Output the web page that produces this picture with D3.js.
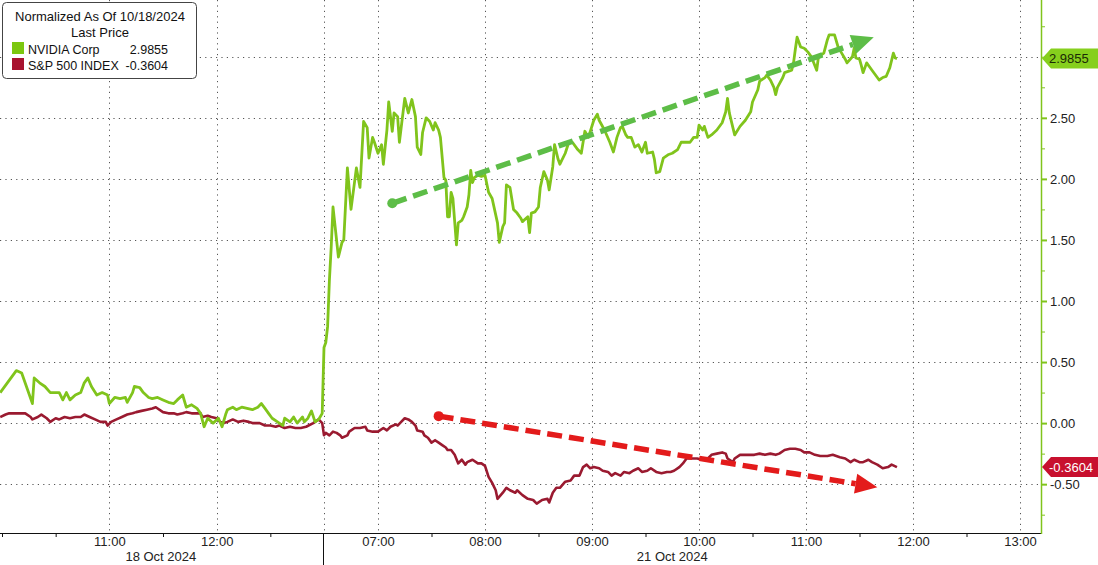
<!DOCTYPE html>
<html><head><meta charset="utf-8">
<script src="https://cdn.jsdelivr.net/npm/d3@7"></script>
<style>
html,body{margin:0;padding:0;background:#fff;}
svg{display:block;font-family:"Liberation Sans",Arial,sans-serif;}
</style></head>
<body>
<svg id="chart" width="1098" height="565"></svg>
<script>
// ---------------- DATA ----------------
const nvdaTimes = [
"10/18 09:59","10/18 10:08","10/18 10:11","10/18 10:17","10/18 10:18","10/18 10:21","10/18 10:24","10/18 10:27","10/18 10:30","10/18 10:32",
"10/18 10:34","10/18 10:36","10/18 10:38","10/18 10:41","10/18 10:44","10/18 10:46","10/18 10:48","10/18 10:50","10/18 10:53","10/18 10:56",
"10/18 10:59","10/18 11:00","10/18 11:03","10/18 11:06","10/18 11:09","10/18 11:10","10/18 11:13","10/18 11:14","10/18 11:17","10/18 11:19",
"10/18 11:22","10/18 11:24","10/18 11:27","10/18 11:30","10/18 11:33","10/18 11:36","10/18 11:38","10/18 11:41","10/18 11:43","10/18 11:46",
"10/18 11:49","10/18 11:51","10/18 11:53","10/18 11:55","10/18 11:58","10/18 12:01","10/18 12:03","10/18 12:05","10/18 12:06","10/18 12:09",
"10/18 12:11","10/18 12:14","10/18 12:17","10/18 12:20","10/18 12:23","10/18 12:25","10/18 12:27","10/18 12:29","10/18 12:31","10/18 12:34",
"10/18 12:37","10/18 12:38","10/18 12:41","10/18 12:43","10/18 12:45","10/18 12:48","10/18 12:49","10/18 12:51","10/18 12:53","10/18 12:55",
"10/18 12:57","10/18 12:59",
"10/21 06:30","10/21 06:31","10/21 06:32","10/21 06:33","10/21 06:34","10/21 06:35","10/21 06:38","10/21 06:40","10/21 06:41","10/21 06:43",
"10/21 06:45","10/21 06:48","10/21 06:50","10/21 06:52","10/21 06:54","10/21 06:55","10/21 06:57","10/21 06:58","10/21 07:00","10/21 07:02",
"10/21 07:03","10/21 07:05","10/21 07:06","10/21 07:08","10/21 07:09","10/21 07:11","10/21 07:12","10/21 07:15","10/21 07:17","10/21 07:19",
"10/21 07:21","10/21 07:22","10/21 07:24","10/21 07:25","10/21 07:27","10/21 07:29","10/21 07:31","10/21 07:32","10/21 07:34","10/21 07:35",
"10/21 07:37","10/21 07:38","10/21 07:39","10/21 07:40","10/21 07:41","10/21 07:42","10/21 07:44","10/21 07:45","10/21 07:47","10/21 07:48",
"10/21 07:50","10/21 07:51","10/21 07:52","10/21 07:53","10/21 07:54","10/21 07:56","10/21 07:58","10/21 08:00","10/21 08:02","10/21 08:04",
"10/21 08:07","10/21 08:08","10/21 08:10","10/21 08:11","10/21 08:12","10/21 08:14","10/21 08:16","10/21 08:18","10/21 08:20","10/21 08:21",
"10/21 08:24","10/21 08:25","10/21 08:26","10/21 08:28","10/21 08:30","10/21 08:31","10/21 08:33","10/21 08:35","10/21 08:36","10/21 08:38",
"10/21 08:39","10/21 08:41","10/21 08:42","10/21 08:45","10/21 08:47","10/21 08:49","10/21 08:52","10/21 08:54","10/21 08:56","10/21 08:58",
"10/21 09:01","10/21 09:03","10/21 09:04","10/21 09:07","10/21 09:10","10/21 09:12","10/21 09:14","10/21 09:16","10/21 09:17","10/21 09:19",
"10/21 09:20","10/21 09:22","10/21 09:24","10/21 09:26","10/21 09:28","10/21 09:30","10/21 09:31","10/21 09:34","10/21 09:35","10/21 09:36",
"10/21 09:38","10/21 09:40","10/21 09:43","10/21 09:45","10/21 09:48","10/21 09:50","10/21 09:52","10/21 09:55","10/21 09:57","10/21 09:59",
"10/21 10:00","10/21 10:02","10/21 10:03","10/21 10:05","10/21 10:07","10/21 10:10","10/21 10:13","10/21 10:15","10/21 10:16","10/21 10:17",
"10/21 10:19","10/21 10:20","10/21 10:23","10/21 10:26","10/21 10:29","10/21 10:30","10/21 10:33","10/21 10:34","10/21 10:37","10/21 10:38",
"10/21 10:40","10/21 10:42","10/21 10:43","10/21 10:44","10/21 10:47","10/21 10:48","10/21 10:50","10/21 10:52","10/21 10:53","10/21 10:54",
"10/21 10:55","10/21 10:57","10/21 10:59","10/21 11:01","10/21 11:03","10/21 11:06","10/21 11:07","10/21 11:10","10/21 11:12","10/21 11:13",
"10/21 11:15","10/21 11:16","10/21 11:18","10/21 11:20","10/21 11:22","10/21 11:23","10/21 11:26","10/21 11:27","10/21 11:28","10/21 11:30",
"10/21 11:31","10/21 11:32","10/21 11:34","10/21 11:36","10/21 11:37","10/21 11:40","10/21 11:41","10/21 11:43","10/21 11:45","10/21 11:47",
"10/21 11:49","10/21 11:50","10/21 11:51"
];
const nvdaValues = [
0.25,0.43,0.41,0.16,0.37,0.33,0.30,0.25,0.25,0.25,
0.19,0.25,0.19,0.23,0.25,0.33,0.37,0.30,0.23,0.25,
0.23,0.16,0.21,0.20,0.21,0.17,0.25,0.30,0.29,0.25,
0.21,0.20,0.21,0.19,0.17,0.16,0.19,0.23,0.13,0.15,
0.12,0.08,-0.03,0.04,0.00,0.04,-0.03,0.07,0.11,0.13,
0.11,0.13,0.12,0.11,0.13,0.16,0.12,0.08,0.04,0.01,
-0.02,0.04,0.01,0.05,0.00,0.05,0.01,0.04,0.10,0.01,
0.03,0.08,
0.62,0.66,0.79,1.17,1.44,1.77,1.36,1.48,1.50,2.09,
1.75,2.09,1.93,2.47,2.42,2.17,2.34,2.30,2.21,2.28,
2.12,2.40,2.63,2.39,2.54,2.51,2.30,2.66,2.54,2.65,
2.51,2.26,2.20,2.38,2.50,2.47,2.40,2.46,2.40,2.34,
2.01,1.99,1.69,1.69,1.89,1.84,1.46,1.64,1.66,1.69,
1.77,1.87,2.07,1.97,2.01,2.03,2.02,2.03,1.89,1.84,
1.64,1.48,1.61,1.64,1.95,1.93,1.75,1.72,1.68,1.65,
1.69,1.56,1.72,1.73,1.77,1.93,2.06,1.99,1.91,2.10,
2.28,2.16,2.12,2.21,2.30,2.30,2.24,2.21,2.39,2.34,
2.48,2.53,2.48,2.40,2.30,2.22,2.34,2.42,2.43,2.36,
2.34,2.34,2.26,2.28,2.22,2.30,2.21,2.22,2.16,2.05,
2.06,2.17,2.20,2.21,2.24,2.30,2.30,2.30,2.34,2.34,
2.44,2.40,2.43,2.34,2.36,2.40,2.46,2.55,2.66,2.54,
2.42,2.36,2.43,2.48,2.55,2.63,2.73,2.80,2.83,2.85,
2.81,2.75,2.69,2.75,2.83,2.87,2.88,2.89,2.95,3.06,
3.16,3.08,3.07,3.04,3.00,2.89,3.00,3.03,3.14,3.18,
3.18,3.18,3.08,3.03,2.98,2.95,3.00,3.07,2.99,2.98,
2.93,2.87,2.95,2.91,2.89,2.83,2.81,2.83,2.84,2.91,
3.03,2.99,2.9855
];
const spxTimes = [
"10/18 09:59","10/18 10:02","10/18 10:04","10/18 10:07","10/18 10:10","10/18 10:13","10/18 10:16","10/18 10:17","10/18 10:20","10/18 10:22",
"10/18 10:25","10/18 10:27","10/18 10:30","10/18 10:32","10/18 10:35","10/18 10:38","10/18 10:41","10/18 10:44","10/18 10:46","10/18 10:49",
"10/18 10:52","10/18 10:55","10/18 10:58","10/18 10:59","10/18 11:01","10/18 11:04","10/18 11:07","10/18 11:10","10/18 11:13","10/18 11:15",
"10/18 11:18","10/18 11:21","10/18 11:24","10/18 11:26","10/18 11:27","10/18 11:30","10/18 11:33","10/18 11:36","10/18 11:38","10/18 11:41",
"10/18 11:43","10/18 11:46","10/18 11:49","10/18 11:51","10/18 11:52","10/18 11:55","10/18 11:57","10/18 12:00","10/18 12:02","10/18 12:04",
"10/18 12:06","10/18 12:09","10/18 12:12","10/18 12:15","10/18 12:18","10/18 12:20","10/18 12:24","10/18 12:27","10/18 12:30","10/18 12:33",
"10/18 12:35","10/18 12:38","10/18 12:41","10/18 12:44","10/18 12:47","10/18 12:50","10/18 12:54","10/18 12:57","10/18 12:59",
"10/21 06:30","10/21 06:31","10/21 06:33","10/21 06:35","10/21 06:37","10/21 06:39","10/21 06:40","10/21 06:43","10/21 06:44","10/21 06:47",
"10/21 06:50","10/21 06:53","10/21 06:54","10/21 06:57","10/21 07:00","10/21 07:03","10/21 07:05","10/21 07:07","10/21 07:10","10/21 07:11",
"10/21 07:13","10/21 07:15","10/21 07:17","10/21 07:19","10/21 07:21","10/21 07:22","10/21 07:25","10/21 07:26","10/21 07:28","10/21 07:30",
"10/21 07:32","10/21 07:34","10/21 07:36","10/21 07:38","10/21 07:39","10/21 07:41","10/21 07:43","10/21 07:45","10/21 07:47","10/21 07:49",
"10/21 07:50","10/21 07:53","10/21 07:56","10/21 07:58","10/21 08:00","10/21 08:02","10/21 08:04","10/21 08:06","10/21 08:07","10/21 08:10",
"10/21 08:12","10/21 08:14","10/21 08:17","10/21 08:18","10/21 08:21","10/21 08:24","10/21 08:27","10/21 08:29","10/21 08:32","10/21 08:35",
"10/21 08:36","10/21 08:38","10/21 08:40","10/21 08:42","10/21 08:45","10/21 08:48","10/21 08:50","10/21 08:53","10/21 08:55","10/21 08:57",
"10/21 08:59","10/21 09:01","10/21 09:04","10/21 09:06","10/21 09:09","10/21 09:11","10/21 09:13","10/21 09:16","10/21 09:18","10/21 09:21",
"10/21 09:23","10/21 09:26","10/21 09:28","10/21 09:31","10/21 09:33","10/21 09:36","10/21 09:39","10/21 09:42","10/21 09:44","10/21 09:46",
"10/21 09:49","10/21 09:51","10/21 09:53","10/21 09:56","10/21 09:59","10/21 10:02","10/21 10:05","10/21 10:07","10/21 10:10","10/21 10:13",
"10/21 10:15","10/21 10:16","10/21 10:19","10/21 10:20","10/21 10:23","10/21 10:26","10/21 10:29","10/21 10:31","10/21 10:34","10/21 10:37",
"10/21 10:40","10/21 10:43","10/21 10:45","10/21 10:48","10/21 10:51","10/21 10:54","10/21 10:57","10/21 10:59","10/21 11:02","10/21 11:05",
"10/21 11:08","10/21 11:12","10/21 11:15","10/21 11:19","10/21 11:22","10/21 11:25","10/21 11:27","10/21 11:30","10/21 11:32","10/21 11:35",
"10/21 11:37","10/21 11:40","10/21 11:43","10/21 11:46","10/21 11:48","10/21 11:51"
];
const spxValues = [
0.05,0.07,0.08,0.08,0.08,0.08,0.05,0.03,0.05,0.07,
0.04,0.01,0.04,0.03,0.05,0.04,0.05,0.05,0.07,0.05,
0.03,0.01,0.01,-0.02,0.01,0.03,0.05,0.07,0.08,0.09,
0.10,0.11,0.12,0.13,0.12,0.09,0.08,0.08,0.07,0.08,
0.09,0.08,0.08,0.08,0.05,0.06,0.05,0.04,0.01,0.00,
0.01,0.03,0.01,0.02,0.01,0.00,0.00,-0.02,-0.02,-0.03,
-0.02,-0.04,-0.03,-0.04,-0.04,-0.03,0.00,0.03,0.00,
-0.10,-0.08,-0.10,-0.07,-0.08,-0.10,-0.12,-0.10,-0.07,-0.04,
-0.04,-0.03,-0.06,-0.07,-0.07,-0.04,-0.06,-0.03,-0.01,-0.02,
0.01,0.04,0.03,0.01,-0.02,-0.06,-0.07,-0.10,-0.12,-0.16,
-0.14,-0.16,-0.18,-0.20,-0.22,-0.22,-0.26,-0.33,-0.30,-0.34,
-0.32,-0.30,-0.33,-0.33,-0.35,-0.44,-0.49,-0.55,-0.62,-0.57,
-0.53,-0.55,-0.57,-0.55,-0.59,-0.62,-0.63,-0.66,-0.63,-0.62,
-0.65,-0.57,-0.53,-0.53,-0.48,-0.47,-0.43,-0.43,-0.36,-0.34,
-0.37,-0.36,-0.37,-0.39,-0.40,-0.43,-0.41,-0.43,-0.40,-0.41,
-0.39,-0.37,-0.40,-0.39,-0.37,-0.40,-0.41,-0.40,-0.40,-0.39,
-0.36,-0.33,-0.29,-0.29,-0.29,-0.30,-0.29,-0.26,-0.25,-0.24,
-0.25,-0.29,-0.32,-0.29,-0.26,-0.26,-0.26,-0.26,-0.25,-0.26,
-0.25,-0.26,-0.25,-0.22,-0.21,-0.21,-0.22,-0.24,-0.24,-0.26,
-0.27,-0.27,-0.26,-0.28,-0.29,-0.32,-0.30,-0.32,-0.32,-0.30,
-0.32,-0.34,-0.37,-0.36,-0.34,-0.3604
];
// trend annotations: [start time, start value, tip time, tip value]
const greenTrend = ["10/21 07:08", 1.80, "10/21 11:38", 3.16];
const redTrend   = ["10/21 07:34", 0.057, "10/21 11:40", -0.525];

const seriesNames = ["NVIDIA Corp", "S&P 500 INDEX"];
const lastValues = [2.9855, -0.3604];
const yGridTicks = [-0.5, 0, 0.5, 1, 1.5, 2, 2.5, 3];
const yLabelTicks = [-0.5, 0, 0.5, 1, 1.5, 2, 2.5];
const yMinorTicks = [-0.75,-0.25,0.25,0.75,1.25,1.75,2.25,2.75,3.25];
// x ticks as session hours (day1 clock hours; day2 = 13 + clock - 6.5)
const xTickLabels = [["11:00",11],["12:00",12],["07:00",13.5],["08:00",14.5],["09:00",15.5],["10:00",16.5],["11:00",17.5],["12:00",18.5],["13:00",19.5]];
const xHalfTicks = [10,10.5,11.5,12.5,14,15,16,17,18,19];
const xGrid = [11,12,13,13.5,14.5,15.5,16.5,17.5,18.5,19.5];
const dateLabels = [["18 Oct 2024",11.48],["21 Oct 2024",16.25]];

// ---------------- SCALES ----------------
const parse = d3.timeParse("%m/%d %H:%M");
function sessionHour(s){
  const d = parse(s);
  const h = d.getHours() + d.getMinutes()/60;
  return d.getDate() === 18 ? h : 13 + (h - 6.5);
}
const plotR = 1041, plotB = 533;
const x = d3.scaleLinear().domain([10, 13, 13.5, 19.5]).range([2, 324, 378, 1020]);
const y = d3.scaleLinear().domain([-0.9, 3.465]).range([plotB, 0]);

const svg = d3.select("#chart");
const COL_NV = "#80c41c", COL_SP = "#9a1a30";
const FONT = "Liberation Sans, Arial, sans-serif";

svg.append("defs").append("clipPath").attr("id","clip")
  .append("rect").attr("x",0).attr("y",0).attr("width",plotR).attr("height",plotB);

// gridlines
const grid = svg.append("g").attr("stroke","#555").attr("stroke-width",1).attr("stroke-dasharray","1.2,4.2");
grid.selectAll(".hg").data(yGridTicks).join("line")
  .attr("x1",0).attr("x2",plotR).attr("y1",d=>Math.round(y(d))+0.5).attr("y2",d=>Math.round(y(d))+0.5);
grid.selectAll(".vg").data(xGrid).join("line")
  .attr("y1",0).attr("y2",plotB).attr("x1",d=>Math.round(x(d))+0.5).attr("x2",d=>Math.round(x(d))+0.5);

// lines
const line = d3.line().x(d=>x(sessionHour(d[0]))).y(d=>y(d[1])).curve(d3.curveLinear);
const plot = svg.append("g").attr("clip-path","url(#clip)");
plot.append("path").datum(spxTimes.map((t,i)=>[t,spxValues[i]]))
  .attr("d",line).attr("fill","none").attr("stroke",COL_SP).attr("stroke-width",2.6).attr("stroke-linejoin","round");
plot.append("path").datum(nvdaTimes.map((t,i)=>[t,nvdaValues[i]]))
  .attr("d",line).attr("fill","none").attr("stroke",COL_NV).attr("stroke-width",2.8).attr("stroke-linejoin","round");

// trend arrows
function arrow(tr, color){
  const x0 = x(sessionHour(tr[0])), y0 = y(tr[1]), x1 = x(sessionHour(tr[2])), y1 = y(tr[3]);
  const ang = Math.atan2(y1-y0, x1-x0), L = 22, W = 10;
  const bx = x1 - L*Math.cos(ang), by = y1 - L*Math.sin(ang);
  const g = svg.append("g");
  g.append("line").attr("x1",x0).attr("y1",y0).attr("x2",bx).attr("y2",by)
    .attr("stroke",color).attr("stroke-width",5.5).attr("stroke-dasharray","15,7");
  g.append("circle").attr("cx",x0).attr("cy",y0).attr("r",5).attr("fill",color);
  const px = -Math.sin(ang), py = Math.cos(ang);
  g.append("path").attr("d",`M${x1},${y1}L${bx+px*W},${by+py*W}L${bx-px*W},${by-py*W}Z`).attr("fill",color);
}
arrow(greenTrend, "#5dbd47");
arrow(redTrend, "#e31b1b");

// x axis
svg.append("line").attr("x1",0).attr("x2",plotR).attr("y1",plotB+0.5).attr("y2",plotB+0.5).attr("stroke","#111").attr("stroke-width",1);
svg.append("g").attr("transform",`translate(0,${plotB})`)
  .call(d3.axisBottom(x).tickValues(xHalfTicks).tickSize(4).tickFormat(""))
  .call(g=>{g.select(".domain").remove(); g.selectAll("line").attr("stroke","#111");});
const xl = svg.append("g").attr("transform",`translate(0,${plotB})`)
  .call(d3.axisBottom(x).tickValues(xTickLabels.map(d=>d[1])).tickSize(0).tickPadding(4)
    .tickFormat((d,i)=>xTickLabels[i][0]));
xl.select(".domain").remove();
xl.selectAll("text").attr("font-size",13).attr("fill","#222").attr("font-family",FONT);
svg.selectAll(".dlab").data(dateLabels).join("text")
  .attr("x",d=>x(d[1])).attr("y",561).attr("text-anchor","middle").attr("font-size",13).attr("fill","#222").text(d=>d[0]);
svg.append("line").attr("x1",323.5).attr("x2",323.5).attr("y1",plotB).attr("y2",565).attr("stroke","#111");

// y axis (right)
svg.append("line").attr("x1",plotR+0.5).attr("x2",plotR+0.5).attr("y1",0).attr("y2",plotB+1).attr("stroke",COL_NV).attr("stroke-width",1.5);
const ya = svg.append("g").attr("transform",`translate(${plotR},0)`)
  .call(d3.axisRight(y).tickValues(yLabelTicks).tickSize(6).tickPadding(3).tickFormat(d3.format(".2f")));
ya.select(".domain").remove();
ya.selectAll("line").attr("stroke",COL_NV).attr("stroke-width",2);
ya.selectAll("text").attr("font-size",13).attr("fill","#222").attr("font-family",FONT).text(d=>d.toFixed(2));
const ym = svg.append("g").attr("transform",`translate(${plotR},0)`)
  .call(d3.axisRight(y).tickValues(yMinorTicks.concat([3])).tickSize(4).tickFormat(""));
ym.select(".domain").remove();
ym.selectAll("line").attr("stroke",COL_NV);

// last value tags
function tag(v, fill, txtCol){
  const cy = y(v), h = 10;
  const g = svg.append("g");
  g.append("path").attr("d",`M${plotR+1},${cy}L${plotR+10},${cy-h}L1098,${cy-h}L1098,${cy+h}L${plotR+10},${cy+h}Z`).attr("fill",fill);
  g.append("text").attr("x",plotR+8).attr("y",cy+4.5).attr("font-size",13).attr("fill",txtCol).text(v.toFixed(4));
}
tag(lastValues[0], "#86cf1d", "#1b2a05");
tag(lastValues[1], "#c8102e", "#ffffff");

// legend
const lg = svg.append("g");
lg.append("rect").attr("x",2.5).attr("y",2.5).attr("width",194).attr("height",76).attr("rx",4)
  .attr("fill","#fff").attr("stroke","#444");
lg.append("text").attr("x",100).attr("y",21).attr("text-anchor","middle").attr("font-size",13).attr("fill","#111").text("Normalized As Of 10/18/2024");
lg.append("text").attr("x",100).attr("y",37).attr("text-anchor","middle").attr("font-size",13).attr("fill","#111").text("Last Price");
const legCols = ["#7cc70f","#a8122e"];
seriesNames.forEach((n,i)=>{
  const yy = 42 + i*16;
  lg.append("rect").attr("x",12).attr("y",yy).attr("width",12).attr("height",12).attr("fill",legCols[i]);
  lg.append("text").attr("x",28).attr("y",yy+11.5).attr("font-size",12.5).attr("fill","#111").text(n);
  lg.append("text").attr("x",168).attr("y",yy+11.5).attr("text-anchor","end").attr("font-size",12.5).attr("fill","#111").text(lastValues[i].toFixed(4));
});
</script>
</body></html>
